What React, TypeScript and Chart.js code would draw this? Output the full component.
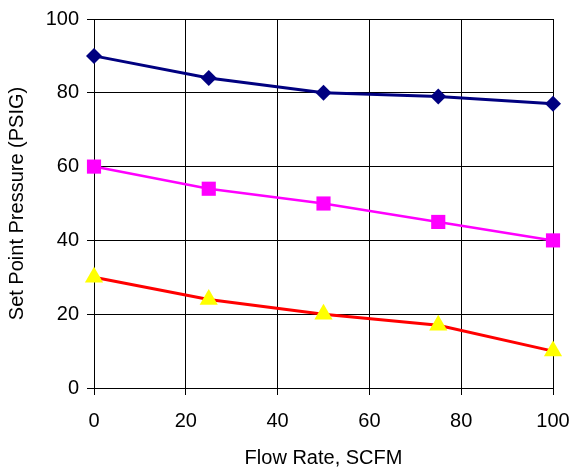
import React, { useEffect, useRef } from "react";
import { Chart, registerables } from "chart.js";

Chart.register(...registerables);

const flowRates = [0, 25, 50, 75, 100];
const seriesHigh = [90, 84, 80, 79, 77];
const seriesMid = [60, 54, 50, 45, 40];
const seriesLow = [30, 24, 20, 17, 10];
const xTitle = "Flow Rate, SCFM";
const yTitle = "Set Point Pressure (PSIG)";

const FONT = "'Liberation Sans', Arial, sans-serif";

function toPoints(vals: number[]) {
  return flowRates.map((x, i) => ({ x, y: vals[i] }));
}

export default function App() {
  const ref = useRef<HTMLCanvasElement | null>(null);
  useEffect(() => {
    if (!ref.current) return;
    const chart = new Chart(ref.current, {
      type: "scatter",
      data: {
        datasets: [
          {
            data: toPoints(seriesHigh),
            showLine: true,
            borderColor: "#000080",
            backgroundColor: "#000080",
            borderWidth: 3,
            pointStyle: "rectRot",
            pointRadius: 8,
            pointBorderWidth: 0,
            pointBackgroundColor: "#000080",
          },
          {
            data: toPoints(seriesMid),
            showLine: true,
            borderColor: "#FF00FF",
            backgroundColor: "#FF00FF",
            borderWidth: 2.5,
            pointStyle: "rect",
            pointRadius: 10,
            pointBorderWidth: 0,
            pointBackgroundColor: "#FF00FF",
          },
          {
            data: toPoints(seriesLow),
            showLine: true,
            borderColor: "#FF0000",
            backgroundColor: "#FFFF00",
            borderWidth: 3,
            pointStyle: "triangle",
            pointRadius: 10.5,
            pointBorderWidth: 0,
            pointBackgroundColor: "#FFFF00",
          },
        ],
      },
      options: {
        animation: false,
        responsive: true,
        maintainAspectRatio: false,
        clip: false as any,
        layout: { padding: { left: 0, right: 19, top: 19, bottom: 0 } },
        plugins: { legend: { display: false }, tooltip: { enabled: false } },
        scales: {
          x: {
            type: "linear",
            min: 0,
            max: 100,
            ticks: {
              stepSize: 20,
              color: "#000",
              padding: 14,
              font: { family: FONT, size: 20 },
            },
            grid: { color: "#000", tickLength: 7, lineWidth: 1 },
            border: { color: "#000" },
            title: {
              display: true,
              text: xTitle,
              color: "#000",
              font: { family: FONT, size: 20 },
              padding: { top: 0, bottom: 0 },
            },
            afterFit: (s: any) => {
              s.height = 82;
              s.paddingLeft = 0;
              s.paddingRight = 0;
            },
          },
          y: {
            type: "linear",
            min: 0,
            max: 100,
            ticks: {
              stepSize: 20,
              color: "#000",
              padding: 8,
              font: { family: FONT, size: 20 },
            },
            grid: { color: "#000", tickLength: 7, lineWidth: 1 },
            border: { color: "#000" },
            title: {
              display: true,
              text: yTitle,
              color: "#000",
              font: { family: FONT, size: 20 },
              padding: { top: 5, bottom: 0 },
            },
            afterFit: (s: any) => {
              s.width = 94;
              s.paddingTop = 0;
              s.paddingBottom = 0;
            },
          },
        },
      },
    });
    return () => chart.destroy();
  }, []);
  return (
    <div style={{ position: "absolute", left: 0, top: 0, width: 572, height: 470, background: "#fff" }}>
      <canvas ref={ref} />
    </div>
  );
}
